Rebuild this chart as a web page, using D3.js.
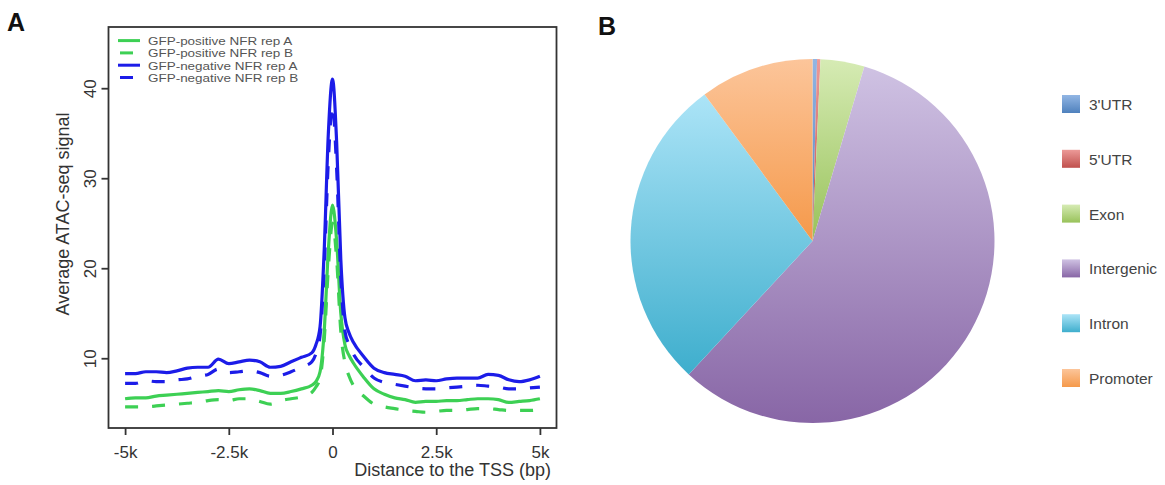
<!DOCTYPE html>
<html>
<head>
<meta charset="utf-8">
<script src="https://cdn.jsdelivr.net/npm/d3@7"></script>
<style>
  body { margin: 0; background: #fff; }
  svg { font-family: "Liberation Sans", Arial, sans-serif; }
</style>
</head>
<body>
<script>
// ---- Panel A data: average ATAC-seq signal around the TSS ----
const positions = [-5000, -4750, -4500, -4250, -4000, -3750, -3500, -3250, -3000, -2750, -2500, -2250,
  -2000, -1750, -1500, -1250, -1000, -750, -500, -400, -300, -200, -100, 0, 100, 200, 300, 400, 500,
  750, 1000, 1250, 1500, 1750, 2000, 2250, 2500, 2750, 3000, 3250, 3500, 3750, 4000, 4250, 4500, 4750, 5000]

const posRepA = [5.5, 5.6, 5.6, 5.8, 5.9, 6.0, 6.1, 6.2, 6.3, 6.4, 6.3, 6.5, 6.6, 6.4, 6.1, 6.1, 6.3, 6.6,
  7.0, 7.4, 8.5, 13, 22, 27, 23, 15, 11.5, 10.3, 9.5, 7.9, 6.6, 6.0, 5.6, 5.4, 5.1, 5.2, 5.2, 5.3, 5.3,
  5.4, 5.5, 5.5, 5.4, 5.1, 5.2, 5.3, 5.5]
const posRepB = [4.6, 4.6, 4.6, 4.7, 4.8, 4.9, 5.0, 5.1, 5.3, 5.4, 5.3, 5.5, 5.5, 5.2, 4.9, 5.3, 5.5, 5.7,
  6.2, 6.8, 7.8, 12, 20, 25, 21, 13, 9.5, 8.0, 7.0, 5.8, 4.9, 4.6, 4.4, 4.2, 4.1, 4.0, 4.1, 4.2, 4.2,
  4.3, 4.4, 4.4, 4.3, 4.2, 4.2, 4.2, 4.3]
const negRepA = [8.3, 8.3, 8.5, 8.5, 8.4, 8.6, 8.9, 9.0, 9.0, 9.9, 9.4, 9.6, 9.8, 9.6, 9.0, 9.1, 9.6, 10.1,
  10.6, 11.5, 13.5, 22, 35, 41, 34, 21, 14.5, 12.8, 11.8, 10.2, 8.9, 8.4, 8.2, 8.0, 7.5, 7.6, 7.5, 7.7,
  7.8, 7.8, 7.8, 8.2, 8.1, 7.6, 7.4, 7.6, 8.0]
const negRepB = [7.2, 7.2, 7.5, 7.4, 7.4, 7.6, 7.7, 8.0, 8.2, 8.8, 8.4, 8.5, 8.6, 8.4, 8.0, 8.1, 8.5, 9.0,
  9.6, 10.5, 12.5, 20, 32, 38, 31, 19, 13, 11.5, 10.5, 9.0, 7.8, 7.3, 7.1, 6.9, 6.7, 6.6, 6.6, 6.7, 6.8,
  6.9, 7.0, 6.9, 6.8, 6.6, 6.6, 6.7, 6.8]

const seriesNames = ["GFP-positive NFR rep A", "GFP-positive NFR rep B", "GFP-negative NFR rep A", "GFP-negative NFR rep B"]
const seriesValues = [posRepA, posRepB, negRepA, negRepB]

const xTicks = [-5000, -2500, 0, 2500, 5000]
const xTickLabels = ["-5k", "-2.5k", "0", "2.5k", "5k"]
const yTicks = [10, 20, 30, 40]

// ---- Panel B data: genomic distribution (%) ----
const regions = ["3'UTR", "5'UTR", "Exon", "Intergenic", "Intron", "Promoter"]
const regionShares = [0.4, 0.3, 3.9, 57.3, 28.0, 10.1]

// styles
const lineColors = ["#3dd054", "#3dd054", "#1c1ce8", "#1c1ce8"]
const lineDash = [null, "13,14", null, "13,14"]
const sliceTop = ["#92b6e4", "#ec9a98", "#d6ebb4", "#cfc2e3", "#ace4f7", "#fcc59a"]
const sliceBottom = ["#4f81bd", "#c0504d", "#98c25a", "#8866a6", "#3eaecd", "#f5994a"]

const svg = d3.select("body").append("svg")
  .attr("width", 1165)
  .attr("height", 485)

const defs = svg.append("defs")

// panel letters
svg.append("text").attr("x", 7).attr("y", 31)
  .style("font-size", "25px").style("font-weight", "bold").attr("fill", "#111").text("A")
svg.append("text").attr("x", 598).attr("y", 35)
  .style("font-size", "25px").style("font-weight", "bold").attr("fill", "#111").text("B")

// ================= Panel A =================
const x = d3.scaleLinear().domain([-5400, 5400]).range([108.5, 556.5])
const y = d3.scaleLinear().domain([2.25, 46.8]).range([428, 27])

const plotA = svg.append("g")

// box
plotA.append("rect")
  .attr("x", x(-5400)).attr("y", y(46.8))
  .attr("width", x(5400) - x(-5400)).attr("height", y(2.25) - y(46.8))
  .attr("fill", "none").attr("stroke", "#333").attr("stroke-width", 1.8)

// x axis
const xAxis = plotA.append("g")
  .attr("transform", `translate(0,${y(2.25)})`)
  .call(d3.axisBottom(x).tickValues(xTicks)
    .tickFormat((d, i) => xTickLabels[i]).tickSize(7).tickPadding(11).tickSizeOuter(0))
xAxis.select(".domain").remove()
xAxis.selectAll("line").attr("stroke", "#333").attr("stroke-width", 1.8)
xAxis.selectAll("text").attr("fill", "#333").style("font-size", "17px").style("font-family", null)

// y axis
const yAxis = plotA.append("g")
  .attr("transform", `translate(${x(-5400)},0)`)
  .call(d3.axisLeft(y).tickValues(yTicks).tickSize(7).tickSizeOuter(0))
yAxis.select(".domain").remove()
yAxis.selectAll("line").attr("stroke", "#333").attr("stroke-width", 1.8)
yAxis.selectAll("text")
  .attr("x", 0).attr("y", -13).attr("dy", null)
  .attr("transform", "rotate(-90)")
  .attr("text-anchor", "middle")
  .attr("fill", "#333").style("font-size", "17px").style("font-family", null)

// axis titles
plotA.append("text")
  .attr("transform", "translate(69,214) rotate(-90)")
  .attr("text-anchor", "middle").attr("fill", "#333").style("font-size", "18px")
  .text("Average ATAC-seq signal")
plotA.append("text")
  .attr("x", 551).attr("y", 476)
  .attr("text-anchor", "end").attr("fill", "#333").style("font-size", "18px")
  .text("Distance to the TSS (bp)")

// profile lines
const line = d3.line()
  .x((d, i) => x(positions[i]))
  .y(d => y(d))
  .curve(d3.curveMonotoneX)

plotA.selectAll("path.profile")
  .data(seriesValues)
  .enter()
  .append("path")
  .attr("class", "profile")
  .attr("d", d => line(d))
  .attr("fill", "none")
  .attr("stroke", (d, i) => lineColors[i])
  .attr("stroke-width", 3.2)
  .attr("stroke-dasharray", (d, i) => lineDash[i])
  .attr("stroke-linejoin", "round")

// legend (text kept small so rows don't collide, stretched to reference width)
const legA = plotA.selectAll("g.leg")
  .data(seriesNames)
  .enter()
  .append("g")
  .attr("class", "leg")
  .attr("transform", (d, i) => `translate(0,${40.6 + i * 12.3})`)

legA.append("line")
  .attr("x1", (d, i) => lineDash[i] ? 120 : 118)
  .attr("x2", (d, i) => lineDash[i] ? 133 : 140)
  .attr("y1", 0).attr("y2", 0)
  .attr("stroke", (d, i) => lineColors[i])
  .attr("stroke-width", 3)

legA.append("text")
  .attr("x", 148).attr("y", 4.5)
  .attr("fill", "#555").style("font-size", "11.5px")
  .text(d => d)
  .each(function () {
    const w = this.getComputedTextLength()
    d3.select(this).attr("textLength", w * 1.17).attr("lengthAdjust", "spacingAndGlyphs")
  })

// ================= Panel B =================
const cx = 812.5, cy = 241, radius = 182

regions.forEach((r, i) => {
  const g = defs.append("linearGradient")
    .attr("id", "grad" + i)
    .attr("x1", 0).attr("y1", 0).attr("x2", 0).attr("y2", 1)
  g.append("stop").attr("offset", "0%").attr("stop-color", sliceTop[i])
  g.append("stop").attr("offset", "100%").attr("stop-color", sliceBottom[i])
})

const pie = d3.pie().sort(null).value(d => d)
const arc = d3.arc().innerRadius(0).outerRadius(radius)

svg.append("g")
  .attr("transform", `translate(${cx},${cy})`)
  .selectAll("path")
  .data(pie(regionShares))
  .enter()
  .append("path")
  .attr("d", arc)
  .attr("fill", (d, i) => `url(#grad${i})`)

// pie legend
const legB = svg.selectAll("g.legB")
  .data(regions)
  .enter()
  .append("g")
  .attr("class", "legB")
  .attr("transform", (d, i) => `translate(1062,${104 + i * 54.8})`)

legB.append("rect")
  .attr("x", 0).attr("y", -9)
  .attr("width", 18).attr("height", 18)
  .attr("fill", (d, i) => `url(#grad${i})`)

legB.append("text")
  .attr("x", 27).attr("y", 6)
  .attr("fill", "#444").style("font-size", "15.5px")
  .text(d => d)
</script>
</body>
</html>
